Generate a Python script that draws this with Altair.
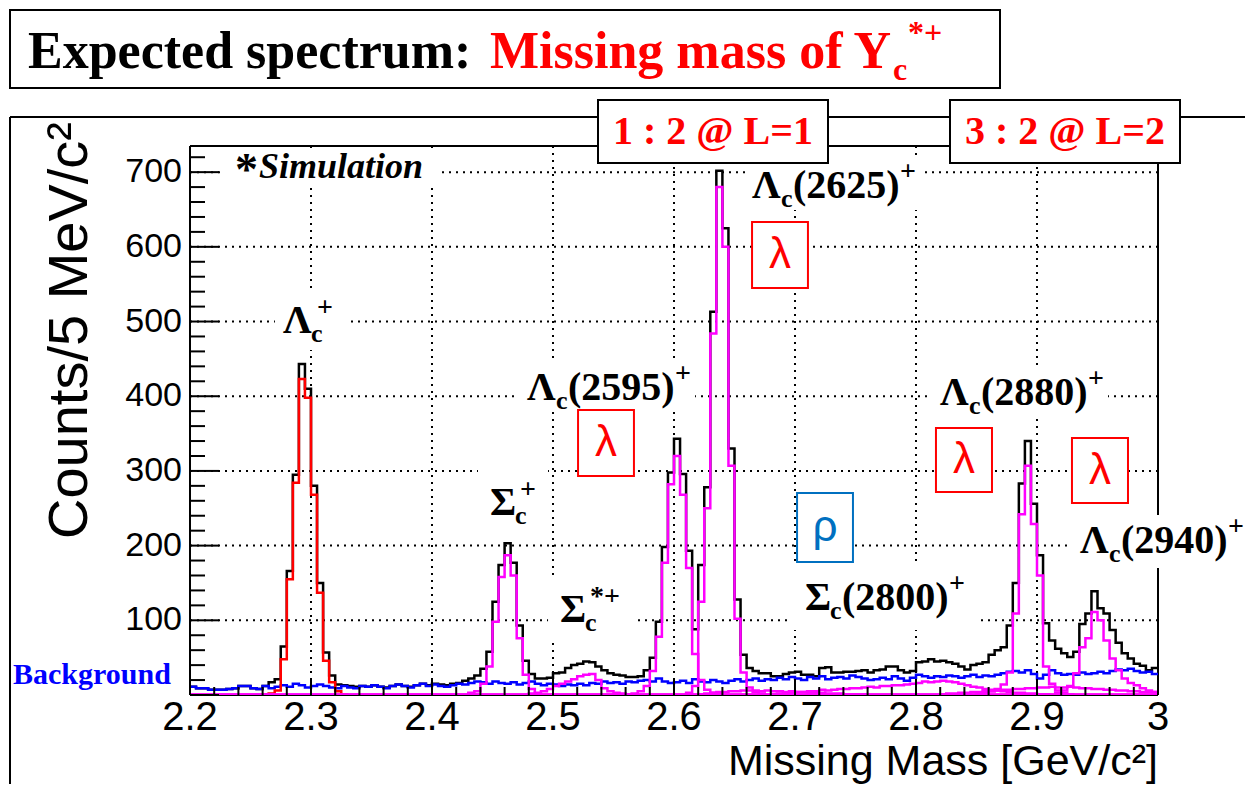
import altair as alt
import pandas as pd

# ---------------- data ----------------
X_MIN, X_MAX, Y_MAX = 2.2, 3.0, 735
BIN_W = 0.005
N_BINS = 160
BIN_LO = [round(X_MIN + BIN_W * i, 3) for i in range(N_BINS)]

X_LABELS = [2.2, 2.3, 2.4, 2.5, 2.6, 2.7, 2.8, 2.9, 3.0]
X_LABEL_TEXT = ["2.2", "2.3", "2.4", "2.5", "2.6", "2.7", "2.8", "2.9", "3"]
Y_LABELS = [100, 200, 300, 400, 500, 600, 700]
GRID_X = [2.3, 2.4, 2.5, 2.6, 2.7, 2.8, 2.9]
GRID_Y = Y_LABELS
X_MINOR = [round(2.2 + 0.02 * k, 2) for k in range(41) if k % 5]
Y_MAJOR = [0] + Y_LABELS
Y_MINOR = [20 * k for k in range(1, 37) if k % 5]

# background (blue)
BACKGROUND = [
    11, 9, 9, 7, 7, 7, 8, 9, 12, 12, 9, 8, 12, 9, 11, 13, 11, 15, 13, 10,
    12, 14, 12, 10, 9, 12, 10, 9, 12, 11, 13, 11, 9, 12, 14, 12, 10, 13, 15, 12,
    14, 12, 11, 13, 15, 14, 16, 18, 17, 15, 18, 16, 15, 17, 14, 16, 18, 15, 13, 15,
    14, 12, 14, 13, 15, 13, 16, 15, 18, 16, 17, 15, 18, 17, 19, 20, 18, 22, 18, 16,
    17, 19, 16, 21, 18, 17, 20, 18, 16, 19, 21, 18, 20, 22, 19, 21, 20, 23, 21, 24,
    22, 20, 24, 22, 25, 21, 23, 24, 22, 26, 24, 22, 20, 21, 23, 21, 25, 22, 19, 23,
    27, 25, 23, 25, 24, 26, 25, 23, 25, 27, 24, 26, 25, 27, 29, 31, 32, 30, 33, 28,
    22, 27, 33, 29, 27, 28, 27, 30, 28, 29, 31, 29, 32, 34, 33, 35, 32, 30, 31, 28,
]
# total (black)
TOTAL = [
    11, 9, 9, 7, 7, 7, 8, 9, 12, 12, 9, 8, 12, 17, 21, 65, 166, 295, 443, 410,
    280, 150, 57, 26, 14, 13, 12, 11, 12, 11, 13, 11, 10, 12, 14, 12, 11, 13, 15, 13,
    15, 14, 13, 15, 16, 19, 22, 26, 35, 58, 125, 174, 203, 177, 93, 46, 28, 22, 22, 23,
    29, 30, 36, 40, 42, 45, 44, 38, 33, 29, 27, 26, 24, 24, 25, 33, 50, 98, 198, 298,
    343, 296, 193, 88, 174, 278, 513, 702, 625, 330, 128, 54, 36, 32, 29, 29, 25, 25, 28, 30,
    31, 27, 27, 25, 36, 37, 30, 30, 31, 31, 32, 33, 30, 33, 34, 38, 38, 33, 30, 32,
    44, 45, 48, 45, 46, 44, 42, 38, 34, 40, 42, 44, 54, 60, 64, 93, 150, 283, 340, 256,
    187, 96, 73, 62, 56, 51, 58, 95, 109, 139, 116, 109, 87, 70, 56, 49, 42, 39, 33, 36,
]
# ground-state Lambda_c+ (red): (first bin, counts)
LAMBDA_C = (12, [1, 2, 6, 48, 155, 284, 423, 398, 268, 137, 46, 17, 5, 1])
# excited states (magenta): (first bin, counts)
SIGMA_C = (46, [3, 5, 15, 38, 98, 158, 187, 160, 76, 27, 8, 2])
SIGMA_C_STAR = (56, [2, 3, 5, 8, 12, 15, 18, 21, 25, 27, 28, 20, 9, 5, 3, 2, 1])
LAMBDA_2595 = (73, [2, 5, 12, 32, 78, 177, 282, 320, 268, 170, 55, 20, 7, 3, 1])
LAMBDA_2625 = (82, [3, 12, 125, 250, 484, 680, 600, 307, 102, 30, 10, 4, 2])
SIGMA_2800 = (96, [1, 2, 2, 3, 4, 4, 5, 5, 7, 6, 7, 8, 8, 9, 9, 10, 11, 10, 12, 12,
                   13, 13, 14, 15, 16, 18, 17, 18, 19, 18, 17, 15, 13, 11, 10, 8, 7, 6, 5, 4,
                   3, 3, 2, 2, 1, 1])
LAMBDA_2880 = (130, [2, 3, 5, 8, 14, 30, 109, 242, 307, 229, 160, 38, 15, 6, 3, 1])
LAMBDA_2940 = (143, [3, 6, 12, 29, 64, 76, 111, 100, 73, 49, 33, 22, 16, 13, 9, 6, 4])
RHO_A = (84, [1, 2, 3, 4, 4, 5, 5, 6, 6, 6, 5, 6, 5, 5, 4, 5, 4, 4, 3, 3, 3, 2, 2, 2, 1, 1, 1, 1])
RHO_B = (124, [1, 2, 2, 3, 3, 4, 4, 5, 5, 6, 7, 7, 8, 8, 9, 9, 10, 10, 11, 10, 10, 11, 10, 9,
               9, 8, 8, 7, 7, 6, 6, 5, 5, 4, 4, 4])
MAGENTA = {
    "Sc": SIGMA_C, "Sc*": SIGMA_C_STAR, "L2595": LAMBDA_2595, "L2625": LAMBDA_2625,
    "S2800": SIGMA_2800, "L2880": LAMBDA_2880, "L2940": LAMBDA_2940,
    "rhoA": RHO_A, "rhoB": RHO_B,
}

# ---------------- geometry ----------------
W, H = 968, 549
PX_PER_GEV = W / (X_MAX - X_MIN)
PX_PER_COUNT = H / Y_MAX

xs = alt.Scale(domain=[X_MIN, X_MAX], nice=False, zero=False)
ys = alt.Scale(domain=[0, Y_MAX], nice=False, zero=False)
ONE = pd.DataFrame({"a": [0]})


def full(comp):
    start, vals = comp
    out = [0] * N_BINS
    for i, v in enumerate(vals):
        out[start + i] = v
    return out


def hist_df(values, name):
    return pd.DataFrame({"x": BIN_LO + [X_MAX], "y": list(values) + [values[-1]], "series": name})


def hist_layer(df, color, width=2.5):
    return alt.Chart(df).mark_line(
        interpolate="step-after", color=color, strokeWidth=width, clip=True
    ).encode(
        x=alt.X("x:Q", scale=xs, axis=None),
        y=alt.Y("y:Q", scale=ys, axis=None),
        detail="series:N",
        order="x:Q",
    )


def ptext(x, y, text, **kw):
    return alt.Chart(ONE).mark_text(**kw).encode(
        x=alt.value(x), y=alt.value(y), text=alt.value(text))


def prect(x1, y1, x2, y2, **kw):
    return alt.Chart(ONE).mark_rect(**kw).encode(
        x=alt.value(x1), x2=alt.value(x2), y=alt.value(y1), y2=alt.value(y2))


def prule(x1, y1, x2, y2, **kw):
    return alt.Chart(ONE).mark_rule(**kw).encode(
        x=alt.value(x1), x2=alt.value(x2), y=alt.value(y1), y2=alt.value(y2))


# ---------------- axes & grid ----------------
grid_v = alt.Chart(pd.DataFrame({"g": GRID_X})).mark_rule(
    color="black", strokeWidth=2, strokeDash=[2, 5]).encode(x=alt.X("g:Q", scale=xs, axis=None))
grid_h = alt.Chart(pd.DataFrame({"g": GRID_Y})).mark_rule(
    color="black", strokeWidth=2, strokeDash=[2, 5]).encode(y=alt.Y("g:Q", scale=ys, axis=None))

frame = [
    prule(0, 0, W, 0, color="black", strokeWidth=2),
    prule(W, 0, W, H, color="black", strokeWidth=2),
]
axis_lines = [
    prule(0, 0, 0, H, color="black", strokeWidth=2),
    prule(0, H, W, H, color="black", strokeWidth=2),
]

xlab = alt.Chart(pd.DataFrame({"v": X_LABELS, "t": X_LABEL_TEXT})).mark_text(
    font="Liberation Sans", fontSize=40, color="black", align="center", baseline="top").encode(
    x=alt.X("v:Q", scale=xs, axis=None), y=alt.value(H + 3), text="t:N")
ylab = alt.Chart(pd.DataFrame({"v": Y_LABELS})).mark_text(
    font="Liberation Sans", fontSize=34, color="black", align="right", baseline="middle").encode(
    y=alt.Y("v:Q", scale=ys, axis=None), x=alt.value(-8), text="v:Q")

# white backgrounds behind labels (data units)
LABEL_BG = pd.DataFrame({
    "x1": [2.2289, 2.2702, 2.4711, 2.6587, 2.8132, 2.9289, 2.4380, 2.4959, 2.6975],
    "x2": [2.4066, 2.3306, 2.6174, 2.8050, 2.9587, 3.0719, 2.4959, 2.5678, 2.8529],
    "y1": [732.0, 542.2, 445.8, 716.2, 437.8, 241.0, 311.9, 156.6, 174.0],
    "y2": [678.7, 461.8, 378.8, 649.3, 370.8, 170.0, 214.2, 73.6, 87.0],
})
label_bg = alt.Chart(LABEL_BG).mark_rect(color="white").encode(
    x=alt.X("x1:Q", scale=xs, axis=None), x2="x2:Q",
    y=alt.Y("y1:Q", scale=ys, axis=None), y2="y2:Q")

# ---------------- histograms ----------------
black_l = hist_layer(hist_df(TOTAL, "total"), "black")
blue_l = hist_layer(hist_df(BACKGROUND, "bg"), "#0000ff")
red_l = hist_layer(hist_df(full(LAMBDA_C), "lc"), "#ff0000")
mag_df = pd.concat([hist_df(full(c), n) for n, c in MAGENTA.items()], ignore_index=True)
mag_l = hist_layer(mag_df, "#ff00ff")


# ---------------- ticks (inward) ----------------
def yticks(vals, length):
    return alt.Chart(pd.DataFrame({"v": vals})).mark_rule(color="black", strokeWidth=2).encode(
        y=alt.Y("v:Q", scale=ys, axis=None), x=alt.value(0), x2=alt.value(length))


def xticks(vals, length):
    return alt.Chart(pd.DataFrame({"v": vals})).mark_rule(color="black", strokeWidth=2).encode(
        x=alt.X("v:Q", scale=xs, axis=None), y=alt.value(H), y2=alt.value(H - length))


ticks = [yticks(Y_MAJOR, 29), yticks(Y_MINOR, 15), xticks(X_LABELS, 16), xticks(X_MINOR, 8)]

# ---------------- lambda / rho boxes ----------------
LAM_BOX = pd.DataFrame({
    "x1": [2.6645, 2.5207, 2.8165, 2.9289], "x2": [2.7107, 2.5669, 2.8628, 2.9752],
    "y1": [633.2, 381.5, 357.4, 344.0], "y2": [544.8, 293.2, 271.8, 257.0],
    "cx": [2.6876, 2.5438, 2.8397, 2.9521], "cy": [589.0, 337.3, 314.6, 300.5],
})
RHO_BOX = pd.DataFrame({"x1": [2.7017], "x2": [2.7479], "y1": [270.4], "y2": [178.0],
                        "cx": [2.7248], "cy": [224.2]})


def box_layers(df, color, glyph):
    b = alt.Chart(df).mark_rect(fill="white", stroke=color, strokeWidth=2).encode(
        x=alt.X("x1:Q", scale=xs, axis=None), x2="x2:Q",
        y=alt.Y("y1:Q", scale=ys, axis=None), y2="y2:Q")
    t = alt.Chart(df).mark_text(font="Liberation Sans", fontSize=44, color=color,
                                align="center", baseline="middle", text=glyph).encode(
        x=alt.X("cx:Q", scale=xs, axis=None), y=alt.Y("cy:Q", scale=ys, axis=None))
    return [b, t]


# ---------------- particle labels ----------------
def lam_parts(mass):
    return [(0, 0, "Λ", 40), (29, 9, "c", 26), (41, 0, f"({mass})", 40), (148, -18, "+", 28)]


ANNOT = [
    (2.2769, 484.6, [(0, 0, "Λ", 40), (28, 9, "c", 26), (34, -17, "+", 28)]),
    (2.4785, 394.9, lam_parts(2595)),
    (2.6645, 665.3, lam_parts(2625)),
    (2.8198, 388.2, lam_parts(2880)),
    (2.9355, 190.1, lam_parts(2940)),
    (2.4479, 241.0, [(0, 0, "Σ", 40), (25, 9, "c", 26), (30, -17, "+", 28)]),
    (2.5058, 97.7, [(0, 0, "Σ", 40), (25, 9, "c", 26), (30, -17, "*+", 28)]),
    (2.7083, 113.8, [(0, 0, "Σ", 40), (25, 9, "c", 26), (37, 0, "(2800)", 40), (144, -18, "+", 28)]),
]
rows = []
for ax_, ay_, parts in ANNOT:
    for dx, dy, t, s in parts:
        rows.append({"x": ax_ + dx / PX_PER_GEV, "y": ay_ - dy / PX_PER_COUNT, "text": t, "size": s})
ann_df = pd.DataFrame(rows)
ann_l = alt.Chart(ann_df).mark_text(align="left", baseline="alphabetic", font="Liberation Serif",
                                    fontWeight="bold", color="black").encode(
    x=alt.X("x:Q", scale=xs, axis=None), y=alt.Y("y:Q", scale=ys, axis=None),
    text="text:N", size=alt.Size("size:Q", scale=None, legend=None))

SIM_X, SIM_Y = 2.2372, 692.1
sim_star = alt.Chart(pd.DataFrame({"x": [SIM_X], "y": [SIM_Y - 7 / PX_PER_COUNT]})).mark_text(
    align="left", baseline="alphabetic", font="Liberation Serif", fontWeight="bold",
    fontSize=46, text="*").encode(x=alt.X("x:Q", scale=xs, axis=None), y=alt.Y("y:Q", scale=ys, axis=None))
sim_word = alt.Chart(pd.DataFrame({"x": [SIM_X + 24 / PX_PER_GEV], "y": [SIM_Y]})).mark_text(
    align="left", baseline="alphabetic", font="Liberation Serif", fontWeight="bold",
    fontStyle="italic", fontSize=36, text="Simulation").encode(
    x=alt.X("x:Q", scale=xs, axis=None), y=alt.Y("y:Q", scale=ys, axis=None))

# ---------------- page decorations (pixels relative to plot origin) ----------------
SERIF = dict(font="Liberation Serif", fontWeight="bold", align="left", baseline="alphabetic")
deco = [
    prule(-180, -29, 1055, -29, color="black", strokeWidth=2),
    prule(-180, -29, -180, 640, color="black", strokeWidth=2),
    prect(-180, -136, 810, -58, fill="white", stroke="black", strokeWidth=2),
    ptext(-162, -78, "Expected spectrum:", fontSize=52, color="black", **SERIF),
    ptext(300, -78, "Missing mass of Y", fontSize=52, color="#ff0000", **SERIF),
    ptext(703, -66, "c", fontSize=32, color="#ff0000", **SERIF),
    ptext(718, -103, "*+", fontSize=32, color="#ff0000", **SERIF),
    prect(408, -46, 638, 17, fill="white", stroke="black", strokeWidth=2),
    prect(760, -46, 990, 17, fill="white", stroke="black", strokeWidth=2),
    ptext(523, -14, "1 : 2 @ L=1", fontSize=40, color="#ff0000", font="Liberation Serif",
          fontWeight="bold", align="center", baseline="middle"),
    ptext(875, -14, "3 : 2 @ L=2", fontSize=40, color="#ff0000", font="Liberation Serif",
          fontWeight="bold", align="center", baseline="middle"),
    ptext(-177, 538, "Background", fontSize=30, color="#0000ff", **SERIF),
    ptext(-120, -24, "Counts/5 MeV/c²", fontSize=56, font="Liberation Sans", color="black",
          angle=270, align="right", baseline="middle"),
    ptext(W, 629, "Missing Mass [GeV/c²]", fontSize=43, font="Liberation Sans", color="black",
          align="right", baseline="alphabetic"),
]

layers = ([grid_v, grid_h] + frame + [label_bg] + axis_lines
          + [black_l, blue_l, red_l, mag_l] + ticks + [xlab, ylab]
          + box_layers(LAM_BOX, "#ff0000", "λ") + box_layers(RHO_BOX, "#0070c0", "ρ")
          + [ann_l, sim_star, sim_word] + deco)

chart = alt.layer(*layers).properties(
    width=W, height=H,
    padding={"left": 182, "top": 138, "right": 87, "bottom": 89},
    autosize=alt.AutoSizeParams(type="none"),
    background="white",
).configure_view(stroke=None)

chart.save("out.html", embed_options={"renderer": "svg", "actions": False})
